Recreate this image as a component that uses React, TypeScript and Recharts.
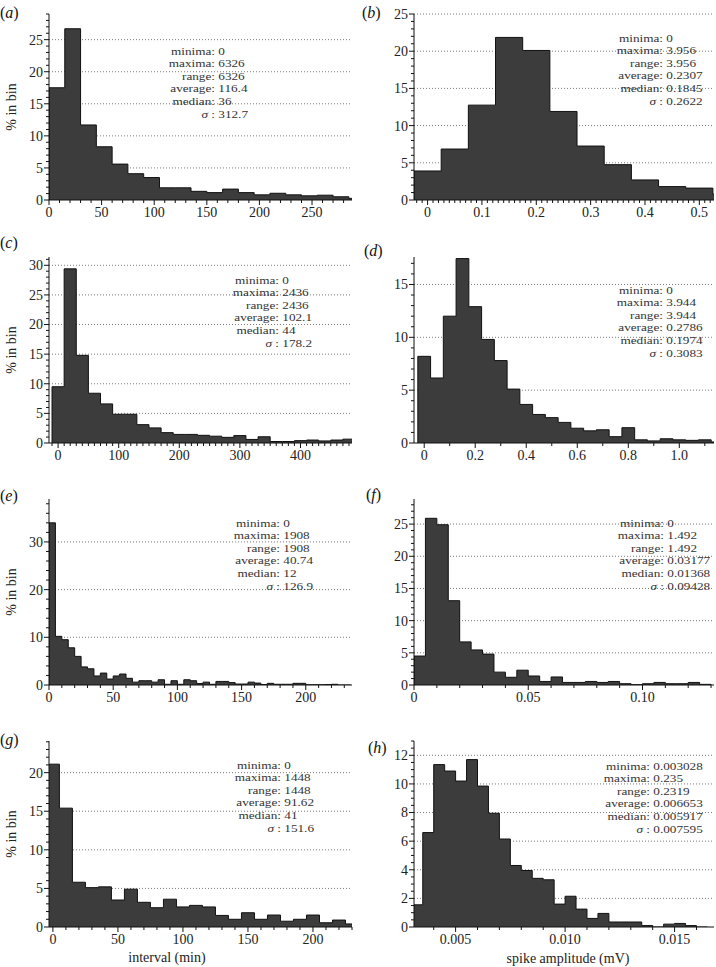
import React from "react";
import { Area, AreaChart, CartesianGrid, XAxis, YAxis } from "recharts";

const FONT = '"Liberation Serif", "Times New Roman", Times, serif';

const statNames = ["minima:", "maxima:", "range:", "average:", "median:"];

// (a) intervals, 15 min bins
const aBinStart = 0;
const aBinWidth = 15;
const aValues = [17.5, 26.7, 11.7, 8.3, 5.6, 4.1, 3.5, 1.9, 1.9, 1.35, 1.15, 1.7, 1.15, 0.8, 1.05, 0.8, 0.65, 0.75, 0.5, 0.25];
const aXTicks = [0, 50, 100, 150, 200, 250];
const aXLabels = ["0", "50", "100", "150", "200", "250"];
const aYTicks = [0, 5, 10, 15, 20, 25];
const aStats = ["0", "6326", "6326", "116.4", "36", "312.7"];

// (b) amplitudes
const bBinStart = -0.025;
const bBinWidth = 0.05;
const bValues = [3.9, 6.85, 12.75, 21.85, 20.1, 11.9, 7.25, 4.75, 2.7, 1.8, 1.6, 0.8];
const bXTicks = [0, 0.1, 0.2, 0.3, 0.4, 0.5];
const bXLabels = ["0", "0.1", "0.2", "0.3", "0.4", "0.5"];
const bYTicks = [0, 5, 10, 15, 20, 25];
const bStats = ["0", "3.956", "3.956", "0.2307", "0.1845", "0.2622"];

// (c) intervals, 20 min bins
const cBinStart = -10;
const cBinWidth = 20;
const cValues = [9.5, 29.4, 14.8, 8.4, 6.6, 4.85, 4.85, 3.1, 2.55, 1.75, 1.45, 1.45, 1.3, 1.15, 0.95, 1.25, 0.6, 1.05, 0.25, 0.25, 0.4, 0.5, 0.35, 0.5, 0.65];
const cXTicks = [0, 100, 200, 300, 400];
const cXLabels = ["0", "100", "200", "300", "400"];
const cYTicks = [0, 5, 10, 15, 20, 25, 30];
const cStats = ["0", "2436", "2436", "102.1", "44", "178.2"];

// (d) amplitudes
const dBinStart = -0.025;
const dBinWidth = 0.05;
const dValues = [8.2, 6.15, 12.0, 17.45, 12.9, 9.8, 7.8, 5.1, 3.65, 2.7, 2.4, 1.95, 1.4, 1.15, 1.25, 0.6, 1.45, 0.3, 0.2, 0.4, 0.3, 0.25, 0.3, 0.1];
const dXTicks = [0, 0.2, 0.4, 0.6, 0.8, 1.0];
const dXLabels = ["0", "0.2", "0.4", "0.6", "0.8", "1.0"];
const dYTicks = [0, 5, 10, 15];
const dStats = ["0", "3.944", "3.944", "0.2786", "0.1974", "0.3083"];

// (e) intervals, 5 min bins
const eBinStart = 0;
const eBinWidth = 5;
const eValues = [34.0, 10.2, 9.5, 7.8, 6.0, 3.8, 3.4, 1.9, 2.5, 1.25, 1.9, 2.3, 1.4, 0.6, 0.9, 0.9, 0.6, 1.1, 0.15, 0.9, 0.15, 1.1, 0.9, 0.3, 0.6, 0.15, 0.75, 0.75, 0.5, 0.2, 0.2, 0.6, 0.4, 0.1, 0.35, 0.15, 0.15, 0.15, 0.35, 0.35, 0.05, 0.05, 0.05, 0.1, 0.15, 0, 0];
const eXTicks = [0, 50, 100, 150, 200];
const eXLabels = ["0", "50", "100", "150", "200"];
const eYTicks = [0, 10, 20, 30];
const eStats = ["0", "1908", "1908", "40.74", "12", "126.9"];

// (f) amplitudes
const fBinStart = 0;
const fBinWidth = 0.005;
const fValues = [4.5, 25.9, 24.9, 13.1, 6.7, 5.45, 4.8, 2.0, 1.2, 2.3, 1.4, 0.55, 1.25, 0.4, 0.4, 0.55, 0.4, 0.55, 0.2, 0.05, 0.2, 0.4, 0.2, 0.2, 0.4, 0.1];
const fXTicks = [0, 0.05, 0.1];
const fXLabels = ["0", "0.05", "0.10"];
const fYTicks = [0, 5, 10, 15, 20, 25];
const fStats = ["0", "1.492", "1.492", "0.03177", "0.01368", "0.09428"];

// (g) intervals, 10 min bins
const gBinStart = -5;
const gBinWidth = 10;
const gValues = [21.1, 15.4, 5.8, 5.1, 5.2, 3.5, 4.9, 3.2, 2.5, 3.6, 2.6, 2.8, 2.6, 1.5, 1.0, 1.85, 1.0, 1.55, 0.75, 1.0, 1.55, 0.55, 0.9, 0.4];
const gXTicks = [0, 50, 100, 150, 200];
const gXLabels = ["0", "50", "100", "150", "200"];
const gYTicks = [0, 5, 10, 15, 20];
const gStats = ["0", "1448", "1448", "91.62", "41", "151.6"];

// (h) amplitudes
const hBinStart = 0.003;
const hBinWidth = 0.0005;
const hValues = [1.55, 6.6, 11.35, 10.9, 10.2, 11.7, 9.85, 7.95, 6.15, 4.3, 3.95, 3.4, 3.3, 1.6, 2.15, 1.25, 0.6, 0.95, 0.35, 0.35, 0.35, 0.1, 0, 0.2, 0.25, 0.1, 0];
const hXTicks = [0.005, 0.01, 0.015];
const hXLabels = ["0.005", "0.010", "0.015"];
const hYTicks = [0, 2, 4, 6, 8, 10, 12];
const hStats = ["0.003028", "0.235", "0.2319", "0.006653", "0.005917", "0.007595"];

type Panel = {
  tag: string;
  left: number;
  top: number;
  width: number;
  height: number;
  binStart: number;
  binWidth: number;
  values: number[];
  xDomain: [number, number];
  yMax: number;
  xTicks: number[];
  xLabels: string[];
  xMinor: number;
  yTicks: number[];
  yMinor: number;
  stats: string[];
  colonX: number;
  statsY: number;
  tagX: number;
  tagY: number;
};

const LEFT = 49;
const RIGHT = 414;
const W_L = 303;
const W_R = 300;
const H = 186;

const panels: Panel[] = [
  { tag: "a", left: LEFT, top: 14, width: W_L, height: H, binStart: aBinStart, binWidth: aBinWidth, values: aValues, xDomain: [0, 288], yMax: 29, xTicks: aXTicks, xLabels: aXLabels, xMinor: 10, yTicks: aYTicks, yMinor: 1, stats: aStats, colonX: 215, statsY: 51, tagX: 0, tagY: 13 },
  { tag: "b", left: RIGHT, top: 14, width: W_R, height: H, binStart: bBinStart, binWidth: bBinWidth, values: bValues, xDomain: [-0.025, 0.527], yMax: 25, xTicks: bXTicks, xLabels: bXLabels, xMinor: 0.01, yTicks: bYTicks, yMinor: 1, stats: bStats, colonX: 663, statsY: 38, tagX: 362, tagY: 13 },
  { tag: "c", left: LEFT, top: 257, width: W_L, height: H, binStart: cBinStart, binWidth: cBinWidth, values: cValues, xDomain: [-15, 485], yMax: 31.4, xTicks: cXTicks, xLabels: cXLabels, xMinor: 10, yTicks: cYTicks, yMinor: 1, stats: cStats, colonX: 279, statsY: 280, tagX: 0, tagY: 243 },
  { tag: "d", left: RIGHT, top: 257, width: W_R, height: H, binStart: dBinStart, binWidth: dBinWidth, values: dValues, xDomain: [-0.04, 1.136], yMax: 17.6, xTicks: dXTicks, xLabels: dXLabels, xMinor: 0.1, yTicks: dYTicks, yMinor: 1, stats: dStats, colonX: 663, statsY: 290, tagX: 364, tagY: 251 },
  { tag: "e", left: LEFT, top: 499, width: W_L, height: H, binStart: eBinStart, binWidth: eBinWidth, values: eValues, xDomain: [0, 236], yMax: 39, xTicks: eXTicks, xLabels: eXLabels, xMinor: 10, yTicks: eYTicks, yMinor: 2, stats: eStats, colonX: 280, statsY: 523, tagX: 0, tagY: 496 },
  { tag: "f", left: RIGHT, top: 499, width: W_R, height: H, binStart: fBinStart, binWidth: fBinWidth, values: fValues, xDomain: [0, 0.1313], yMax: 28.9, xTicks: fXTicks, xLabels: fXLabels, xMinor: 0.01, yTicks: fYTicks, yMinor: 1, stats: fStats, colonX: 664, statsY: 523, tagX: 366, tagY: 495 },
  { tag: "g", left: LEFT, top: 741, width: W_L, height: H, binStart: gBinStart, binWidth: gBinWidth, values: gValues, xDomain: [-3, 230], yMax: 24.1, xTicks: gXTicks, xLabels: gXLabels, xMinor: 10, yTicks: gYTicks, yMinor: 1, stats: gStats, colonX: 281, statsY: 765, tagX: 0, tagY: 740 },
  { tag: "h", left: RIGHT, top: 741, width: W_R, height: H, binStart: hBinStart, binWidth: hBinWidth, values: hValues, xDomain: [0.0031, 0.0168], yMax: 13, xTicks: hXTicks, xLabels: hXLabels, xMinor: 0.001, yTicks: hYTicks, yMinor: 0.5, stats: hStats, colonX: 650, statsY: 766, tagX: 368, tagY: 748 },
];

// step outline of the histogram: one point per bin start, closed at both ends
function toSteps(start: number, width: number, values: number[]) {
  const n = values.length;
  const pts = [{ x: start, y: 0 }];
  values.forEach((v, i) => pts.push({ x: start + i * width, y: v }));
  pts.push({ x: start + n * width, y: values[n - 1] });
  pts.push({ x: start + n * width, y: 0 });
  return pts;
}

function tickRange(lo: number, hi: number, step: number) {
  const out: number[] = [];
  for (let k = Math.ceil(lo / step - 1e-9); k * step <= hi + step * 1e-6; k++) out.push(+(k * step).toFixed(8));
  return out;
}

function mergeTicks(major: number[], minor: number[]) {
  const all = [...major];
  minor.forEach((m) => {
    if (!all.some((v) => Math.abs(v - m) < 1e-9)) all.push(m);
  });
  return all.sort((p, q) => p - q);
}

function majorIndex(majors: number[], value: number) {
  return majors.findIndex((m) => Math.abs(m - value) < 1e-9);
}

function XTick(props: any) {
  const { x, y, payload, majors, labels } = props;
  const i = majorIndex(majors, payload.value);
  const len = i >= 0 ? 5 : 3;
  return (
    <g>
      <line x1={x} x2={x} y1={y} y2={y + len} stroke="#111" />
      {i >= 0 && (
        <text x={x} y={y + 7} dy="0.71em" textAnchor="middle" fontFamily={FONT} fontSize={14} fill="#222">
          {labels[i]}
        </text>
      )}
    </g>
  );
}

function YTick(props: any) {
  const { x, y, payload, majors } = props;
  const i = majorIndex(majors, payload.value);
  const len = i >= 0 ? 5 : 3;
  return (
    <g>
      <line x1={x} x2={x - len} y1={y} y2={y} stroke="#111" />
      {i >= 0 && (
        <text x={x - 6} y={y} dy="0.35em" textAnchor="end" fontFamily={FONT} fontSize={14} fill="#222">
          {String(majors[i])}
        </text>
      )}
    </g>
  );
}

function Histogram({ p }: { p: Panel }) {
  const data = toSteps(p.binStart, p.binWidth, p.values);
  const xAll = mergeTicks(p.xTicks, tickRange(p.xDomain[0], p.xDomain[1], p.xMinor));
  const yAll = mergeTicks(p.yTicks, tickRange(0, p.yMax, p.yMinor));
  return (
    <div style={{ position: "absolute", left: p.left - 45, top: p.top - 8 }}>
      <AreaChart width={p.width + 46} height={p.height + 36} data={data} margin={{ top: 8, right: 1, bottom: 0, left: 0 }}>
        <CartesianGrid
          vertical={false}
          horizontalValues={p.yTicks.filter((v) => v > 0)}
          stroke="#7a7a7a"
          strokeDasharray="1 2"
        />
        <Area
          type="stepAfter"
          dataKey="y"
          stroke="#111"
          strokeWidth={1}
          fill="#3c3c3c"
          fillOpacity={1}
          dot={false}
          activeDot={false}
          isAnimationActive={false}
        />
        <XAxis
          xAxisId="top"
          orientation="top"
          type="number"
          domain={p.xDomain}
          allowDataOverflow
          height={0}
          tick={false}
          tickLine={false}
          axisLine={{ stroke: "#9a9a9a" }}
        />
        <YAxis
          yAxisId="right"
          orientation="right"
          type="number"
          domain={[0, p.yMax]}
          allowDataOverflow
          width={0}
          tick={false}
          tickLine={false}
          axisLine={{ stroke: "#9a9a9a" }}
        />
        <XAxis
          type="number"
          dataKey="x"
          domain={p.xDomain}
          allowDataOverflow
          ticks={xAll}
          interval={0}
          tickSize={0}
          tickMargin={0}
          tickLine={false}
          axisLine={{ stroke: "#111" }}
          height={28}
          tick={(t: any) => <XTick {...t} majors={p.xTicks} labels={p.xLabels} />}
        />
        <YAxis
          type="number"
          domain={[0, p.yMax]}
          allowDataOverflow
          ticks={yAll}
          interval={0}
          tickSize={0}
          tickMargin={0}
          tickLine={false}
          axisLine={{ stroke: "#111" }}
          width={45}
          tick={(t: any) => <YTick {...t} majors={p.yTicks} />}
        />
      </AreaChart>
    </div>
  );
}

function Stats({ p }: { p: Panel }) {
  return (
    <div
      style={{
        position: "absolute",
        left: p.colonX - 50,
        top: p.statsY - 6.3,
        fontSize: 11,
        lineHeight: "12.6px",
        color: "#333",
        whiteSpace: "nowrap",
        transform: "scaleX(1.2)",
        transformOrigin: "50px 0",
      }}
    >
      {p.stats.map((v, i) => (
        <div key={i}>
          <span style={{ display: "inline-block", width: 50, textAlign: "right" }}>
            {i < 5 ? statNames[i] : (
              <>
                <i>σ</i> :
              </>
            )}
          </span>
          <span> {v}</span>
        </div>
      ))}
    </div>
  );
}

export default function App() {
  return (
    <div
      style={{
        position: "absolute",
        left: 0,
        top: 0,
        width: 716,
        height: 967,
        background: "#fff",
        overflow: "hidden",
        fontFamily: FONT,
      }}
    >
      {panels.map((p) => (
        <React.Fragment key={p.tag}>
          <Histogram p={p} />
          <Stats p={p} />
          <div style={{ position: "absolute", left: p.tagX, top: p.tagY - 9, fontSize: 16, lineHeight: "18px", color: "#111" }}>
            (<i>{p.tag}</i>)
          </div>
          {p.left === LEFT && (
            <div
              style={{
                position: "absolute",
                left: 12,
                top: p.top + p.height / 2,
                transform: "translate(-50%, -50%) rotate(-90deg)",
                fontSize: 14,
                color: "#222",
                whiteSpace: "nowrap",
              }}
            >
              % in bin
            </div>
          )}
        </React.Fragment>
      ))}
      <div style={{ position: "absolute", left: 167, top: 958, transform: "translate(-50%, -50%)", fontSize: 14, color: "#222", whiteSpace: "nowrap" }}>
        interval (min)
      </div>
      <div style={{ position: "absolute", left: 568, top: 959, transform: "translate(-50%, -50%)", fontSize: 14, color: "#222", whiteSpace: "nowrap" }}>
        spike amplitude (mV)
      </div>
    </div>
  );
}
